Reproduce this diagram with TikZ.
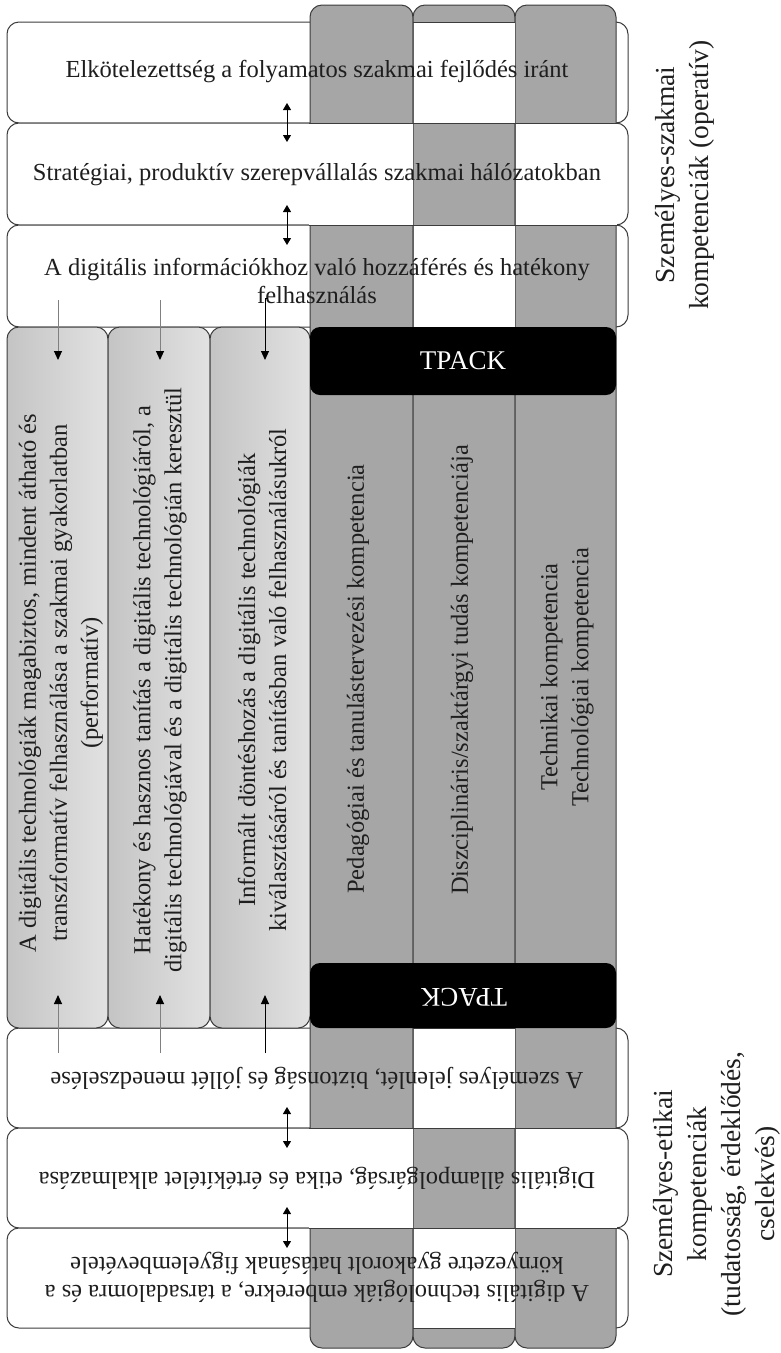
\documentclass[tikz,border=0pt]{standalone}
\usepackage{fontspec}
\setmainfont{Liberation Serif}
\usetikzlibrary{arrows.meta}
\definecolor{colgray}{HTML}{A6A6A6}
\definecolor{edge}{HTML}{3C3C3C}
\definecolor{lgA}{HTML}{C4C4C4}
\definecolor{lgB}{HTML}{E2E2E2}
\definecolor{txtc}{HTML}{1E1E1E}
\definecolor{arrgray}{HTML}{808080}
\begin{document}
\begin{tikzpicture}[x=1pt,y=-1pt,
  rowbox/.style={draw=edge,line width=1pt,fill=white,rounded corners=12pt},
  colbox/.style={draw=edge,line width=1pt,fill=colgray,rounded corners=12pt},
  lightbox/.style={draw=edge,line width=1pt,rounded corners=12pt,left color=lgA,right color=lgB},
  tpackbox/.style={fill=black,rounded corners=10pt},
  edgeline/.style={draw=edge,line width=1pt},
  lbl/.style={font=\fontsize{24.5}{28}\selectfont,align=center,text=txtc,inner sep=0pt},
  vlbl/.style={font=\fontsize{24.5}{31}\selectfont,align=center,text=txtc,inner sep=0pt,rotate=90},
  side/.style={font=\fontsize{27.5}{34}\selectfont,align=center,text=txtc,inner sep=0pt},
  tp/.style={font=\fontsize{27}{30}\selectfont,text=white,inner sep=0pt},
  dbl/.style={{Triangle[width=8pt,length=7pt]}-{Triangle[width=8pt,length=7pt]},line width=1pt,black},
  feed/.style={-{Triangle[width=8pt,length=9pt,color=black]},line width=1pt}
]
\useasboundingbox (0,0) rectangle (781,1353);
% rows
\foreach \ya/\yb in {22/123,123/225,225/327,1028/1128,1128/1228,1228/1328}
  \draw[rowbox] (7,\ya) rectangle (628,\yb);
% columns
\draw[colbox] (310,5) rectangle (413,1348);
\draw[colbox] (413,5) rectangle (515,1348);
\draw[colbox] (515,5) rectangle (616,1348);
% weaving patches (row over column)
\foreach \ya/\yb in {22/123,225/327,1028/1128,1228/1328}{
  \fill[white] (413.5,\ya) rectangle (514.5,\yb);
  \draw[edgeline] (413,\ya) -- (515,\ya) (413,\yb) -- (515,\yb);
}
\foreach \ya/\yb in {123/225,1128/1228}{
  \fill[white] (309,\ya) rectangle (412.5,\yb);
  \draw[edgeline] (309,\ya) -- (413,\ya) (309,\yb) -- (413,\yb);
  \fill[white] (515.5,\ya) rectangle (617,\yb);
  \draw[edgeline] (515,\ya) -- (617,\ya) (515,\yb) -- (617,\yb);
}
% light boxes
\path[lightbox] (7,327) rectangle (108,1028);
\path[lightbox] (108,327) rectangle (210,1028);
\path[lightbox] (210,327) rectangle (310,1028);
% TPACK boxes
\fill[tpackbox] (310,327) rectangle (616,395);
\fill[tpackbox] (310,963) rectangle (616,1028);
% row texts
\node[lbl] (t1) at (317,72) {Elkötelezettség a folyamatos szakmai fejlődés iránt};
\node[lbl] (t2) at (317,175) {Stratégiai, produktív szerepvállalás szakmai hálózatokban};
\node[lbl] (t3) at (317,281) {A digitális információkhoz való hozzáférés és hatékony\\felhasználás};
\node[lbl,rotate=180] (tA) at (317,1078) {A személyes jelenlét, biztonság és jóllét menedzselése};
\node[lbl,rotate=180] (tB) at (317,1178) {Digitális állampolgárság, etika és értékítélet alkalmazása};
\node[lbl,rotate=180] (tC) at (317,1277) {A digitális technológiák emberekre, a társadalomra és a\\környezetre gyakorolt hatásának figyelembevétele};
% light box texts
\node[vlbl] (l1) at (61,683) {A digitális technológiák magabiztos, mindent átható és\\transzformatív felhasználása a szakmai gyakorlatban\\(performatív)};
\node[vlbl] (l2) at (160,680) {Hatékony és hasznos tanítás a digitális technológiáról, a\\digitális technológiával és a digitális technológián keresztül};
\node[vlbl] (l3) at (262,680) {Informált döntéshozás a digitális technológiák\\kiválasztásáról és tanításban való felhasználásukról};
% column texts
\node[vlbl] (c1) at (358,679) {Pedagógiai és tanulástervezési kompetencia};
\node[vlbl] (c2) at (462,670) {Diszciplináris/szaktárgyi tudás kompetenciája};
\node[vlbl] (c3) at (567,677) {Technikai kompetencia\\Technológiai kompetencia};
% TPACK texts
\node[tp] (tp1) at (463,361) {TPACK};
\node[tp,rotate=180] (tp2) at (464,997) {TPACK};
% side labels
\node[side,rotate=90] (s1) at (685,175) {Személyes-szakmai\\kompetenciák (operatív)};
\node[side,rotate=90] (s2) at (717,1184) {Személyes-etikai\\kompetenciák\\(tudatosság, érdeklődés,\\cselekvés)};
% double arrows
\coordinate (d1a) at (287,103); \coordinate (d1b) at (287,142);
\coordinate (d2a) at (287,205); \coordinate (d2b) at (287,245);
\coordinate (d3a) at (287,1107); \coordinate (d3b) at (287,1148);
\coordinate (d4a) at (287,1207); \coordinate (d4b) at (287,1248);
\draw[dbl] (d1a) -- (d1b);
\draw[dbl] (d2a) -- (d2b);
\draw[dbl] (d3a) -- (d3b);
\draw[dbl] (d4a) -- (d4b);
% feed arrows
\coordinate (f1a) at (58,300); \coordinate (f1b) at (58,360);
\coordinate (f2a) at (160,300); \coordinate (f2b) at (160,360);
\coordinate (f3h) at (268,298); \coordinate (f3a) at (265,298); \coordinate (f3b) at (265,360);
\coordinate (g1a) at (58,1053); \coordinate (g1b) at (58,995);
\coordinate (g2a) at (160,1053); \coordinate (g2b) at (160,995);
\coordinate (g3a) at (265,1053); \coordinate (g3b) at (265,995);
\draw[feed,arrgray] (f1a) -- (f1b);
\draw[feed,arrgray] (f2a) -- (f2b);
\draw[feed,black] (f3h) -- (f3a) -- (f3b);
\draw[feed,arrgray] (g1a) -- (g1b);
\draw[feed,arrgray] (g2a) -- (g2b);
\draw[feed,black] (g3a) -- (g3b);
\end{tikzpicture}
\end{document}
